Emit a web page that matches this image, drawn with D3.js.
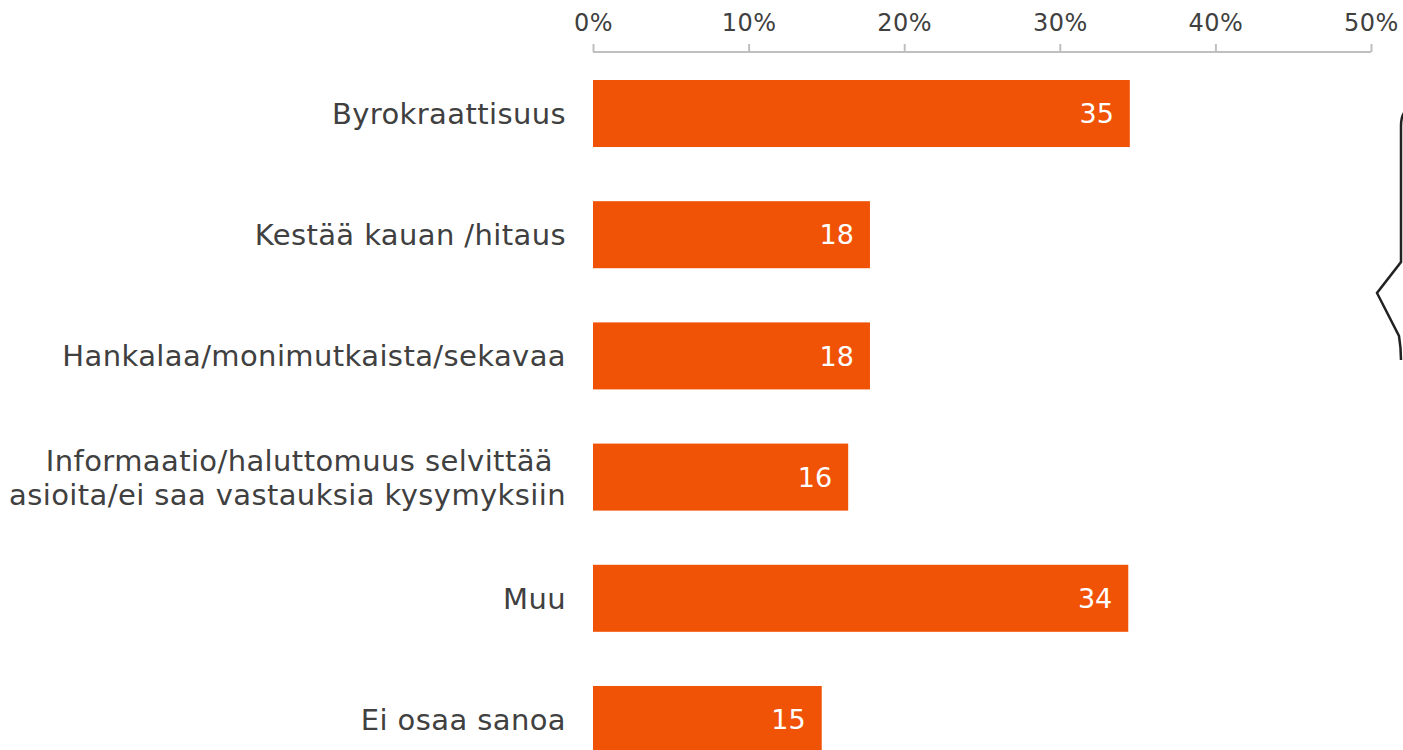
<!DOCTYPE html>
<html>
<head>
<meta charset="utf-8">
<style>
  body { margin: 0; background: #fff; }
  svg { display: block; font-family: "DejaVu Sans", Verdana, sans-serif; }
</style>
</head>
<body>
<div id="graph"></div>
<script src="https://d3js.org/d3.v7.min.js"></script>
<script>
// Data
var categories = [
  ["Byrokraattisuus"],
  ["Kestää kauan /hitaus"],
  ["Hankalaa/monimutkaista/sekavaa"],
  ["Informaatio/haluttomuus selvittää", "asioita/ei saa vastauksia kysymyksiin"],
  ["Muu"],
  ["Ei osaa sanoa"]
];
var values = [34.5, 17.8, 17.8, 16.4, 34.4, 14.7];
var valueLabels = ["35", "18", "18", "16", "34", "15"];
var tickValues = [0, 10, 20, 30, 40, 50];

var W = 1403, H = 750;
var barColor = "#f05206";
var textColor = "#404040";

var svg = d3.select("#graph")
  .append("svg")
  .attr("width", W)
  .attr("height", H);

var keys = categories.map(function(c) { return c.join(" "); });

// Scales
var xScale = d3.scaleLinear().domain([0, 50]).range([593, 1371]);
var yScale = d3.scaleBand()
  .domain(keys)
  .range([80, 753])
  .paddingInner(0.447)
  .paddingOuter(0);

// Top axis
var axis = svg.append("g")
  .attr("transform", "translate(0,52)")
  .call(d3.axisTop(xScale)
    .tickValues(tickValues)
    .tickSize(8)
    .tickPadding(13)
    .tickFormat(function(d) { return d + "%"; }));
axis.select(".domain")
  .attr("stroke", "#bfbfbf")
  .attr("stroke-width", 2)
  .attr("d", "M" + xScale(0) + ",0H" + xScale(50));
axis.selectAll(".tick line")
  .attr("stroke", "#bfbfbf")
  .attr("stroke-width", 2);
axis.selectAll(".tick text")
  .attr("fill", textColor)
  .style("font-size", "24px")
  .style("letter-spacing", "0.5px")
  .style("font-family", "DejaVu Sans, Verdana, sans-serif");

// Bars
svg.selectAll("rect.bar")
  .data(values)
  .enter()
  .append("rect")
  .attr("class", "bar")
  .attr("x", xScale(0))
  .attr("y", function(d, i) { return yScale(keys[i]); })
  .attr("width", function(d) { return xScale(d) - xScale(0); })
  .attr("height", yScale.bandwidth())
  .attr("fill", barColor);

// Value labels
svg.selectAll("text.val")
  .data(values)
  .enter()
  .append("text")
  .attr("class", "val")
  .attr("x", function(d) { return xScale(d) - 16; })
  .attr("y", function(d, i) { return yScale(keys[i]) + yScale.bandwidth() / 2; })
  .attr("dy", "0.36em")
  .attr("text-anchor", "end")
  .attr("fill", "#fff")
  .style("font-size", "27px")
  .text(function(d, i) { return valueLabels[i]; });

// Category labels
var lineH = 34;
var cat = svg.selectAll("text.cat")
  .data(categories)
  .enter()
  .append("text")
  .attr("class", "cat")
  .attr("text-anchor", "end")
  .attr("fill", textColor)
  .style("font-size", "29px")
  .style("letter-spacing", "0.4px");
cat.each(function(lines, i) {
  var cy = yScale(keys[i]) + yScale.bandwidth() / 2;
  var start = cy - (lines.length - 1) * lineH / 2;
  d3.select(this).selectAll("tspan")
    .data(lines)
    .enter()
    .append("tspan")
    .attr("x", function(d, j) { return lines.length > 1 && j === 0 ? 553 : 566; })
    .attr("y", function(d, j) { return start + j * lineH; })
    .attr("dy", "0.36em")
    .text(function(d) { return d; });
});

// Partly visible callout outline at right edge
svg.append("path")
  .attr("d", "M1410,108 C1404,110 1401,116 1401,126 L1401,262 L1377,293 L1399,336 C1400,342 1401,350 1401,360")
  .attr("fill", "none")
  .attr("stroke", "#222")
  .attr("stroke-width", 2.5);
</script>
</body>
</html>
